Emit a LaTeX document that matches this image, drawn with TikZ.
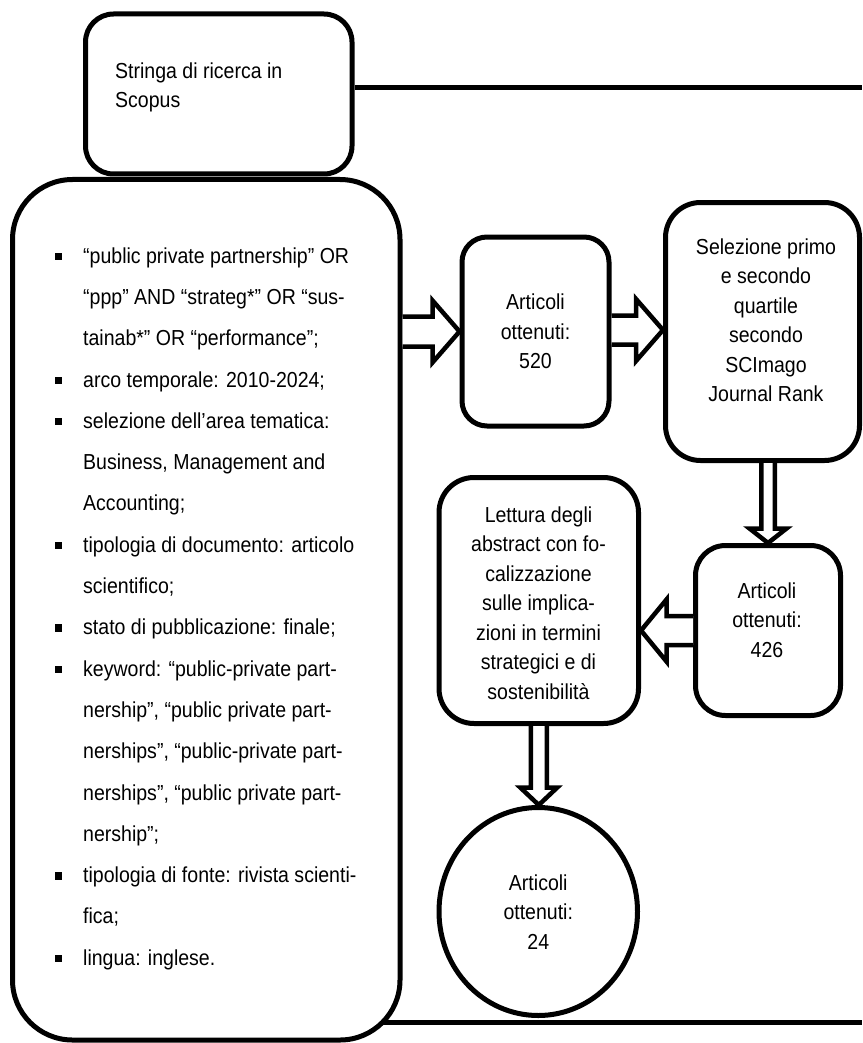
\documentclass[tikz,border=0pt]{standalone}
\usepackage{fontspec}
\setmainfont{Liberation Sans}[FakeStretch=0.9]
\usetikzlibrary{calc,shapes.geometric}
\tikzset{
  box/.style={draw=black, line width=5pt, fill=white, rounded corners=#1, inner sep=0pt},
  box/.default=30pt,
  frameline/.style={draw=black, line width=5pt},
  barrow/.style={draw=black, fill=white, line width=4.5pt, line join=miter},
  txt/.style={inner sep=0pt, font=\fontsize{21.7}{29.5}\selectfont, align=center},
  listtxt/.style={inner sep=0pt, font=\fontsize{21.7}{41.3}\selectfont, align=left},
}
% horizontal block arrow: tail, tip, shaft half-width, head half-width, head length, direction (1 right, -1 left)
\newcommand\hblock[6]{%
  \draw[barrow] ($(#1)+(0,-#3)$) -- ($(#2)+({-(#6)*(#5)},-#3)$) -- ($(#2)+({-(#6)*(#5)},-#4)$) -- (#2)
    -- ($(#2)+({-(#6)*(#5)},#4)$) -- ($(#2)+({-(#6)*(#5)},#3)$) -- ($(#1)+(0,#3)$);}
% vertical block arrow pointing down: tail, tip, shaft half-width, head half-width, head length
\newcommand\vblock[5]{%
  \draw[barrow] ($(#1)+(-#3,0)$) -- ($(#2)+(-#3,-#5)$) -- ($(#2)+(-#4,-#5)$) -- (#2)
    -- ($(#2)+(#4,-#5)$) -- ($(#2)+(#3,-#5)$) -- ($(#1)+(#3,0)$);}
\newcommand\blt{\llap{\rule[3pt]{7pt}{7.5pt}\hspace{21pt}}}
\begin{document}
\begin{tikzpicture}[x=1pt,y=-1pt]
\useasboundingbox (0,0) rectangle (862,1043);
% outer frame (partly hidden behind the boxes)
\coordinate (frameTR) at (862,88);
\coordinate (frameBL) at (300,1022.5);
\coordinate (frameBR) at (862,1022.5);
\draw[frameline] (frameBL) -- (frameBR);

% boxes
\node[box=60pt, minimum width=387.5pt, minimum height=860.5pt] (big) at (206.25,609.75) {};
\node[box=28pt, minimum width=266.5pt, minimum height=160pt] (stringa) at (218.75,94) {};
\node[box=25pt, minimum width=147pt, minimum height=189pt] (b520) at (535.5,331.5) {};
\node[box=35pt, minimum width=194pt, minimum height=258pt] (sel) at (762.5,331.5) {};
\node[box=30pt, minimum width=145pt, minimum height=170pt] (b426) at (768,630.5) {};
\node[box=35pt, minimum width=199.5pt, minimum height=246pt] (let) at (538.75,600.5) {};
\node[draw=black, line width=5pt, fill=white, ellipse, inner sep=0pt, minimum width=198.5pt, minimum height=208pt] (circ) at (538.25,911.5) {};

\draw[frameline] (stringa.east |- frameTR) -- (frameTR);

% texts
\node[txt, align=left, anchor=north west] (stringatext) at (115,62.4) {Stringa di ricerca in\\Scopus};
\node[listtxt, anchor=north west] (list) at (83,247.2) {%
\blt “public private partnership” OR\\
“ppp” AND “strateg*” OR “sus-\\
tainab*” OR “performance”;\\
\blt arco temporale: 2010-2024;\\
\blt selezione dell’area tematica:\\
Business, Management and\\
Accounting;\\
\blt tipologia di documento: articolo\\
scientifico;\\
\blt stato di pubblicazione: finale;\\
\blt keyword: “public-private part-\\
nership”, “public private part-\\
nerships”, “public-private part-\\
nerships”, “public private part-\\
nership”;\\
\blt tipologia di fonte: rivista scienti-\\
fica;\\
\blt lingua: inglese.};
\node[txt] (t520) at (535.5,331.7) {Articoli\\ottenuti:\\520};
\node[txt] (tsel) at (766,320) {Selezione primo\\e secondo\\quartile\\secondo\\SCImago\\Journal Rank};
\node[txt] (t426) at (767,620) {Articoli\\ottenuti:\\426};
\node[txt] (tlet) at (538.5,603) {Lettura degli\\abstract con fo-\\calizzazione\\sulle implica-\\zioni in termini\\strategici e di\\sostenibilità};
\node[txt] (tcirc) at (538.25,912) {Articoli\\ottenuti:\\24};

% block arrows
\coordinate (a1s) at (big.east |- b520.west);
\hblock{a1s}{b520.west}{15}{31}{27}{1}
\coordinate (a2s) at (b520.east |- sel.west);
\coordinate (a2e) at (sel.west |- 0,330);
\coordinate (a2s) at (b520.east |- a2e);
\hblock{a2s}{a2e}{14.5}{31}{27}{1}
\coordinate (a3s) at (b426.north |- sel.south);
\vblock{a3s}{b426.north}{6.75}{18.5}{14.5}
\coordinate (a4e) at (let.east |- b426.west);
\hblock{b426.west}{a4e}{14.5}{31}{25.5}{-1}
\coordinate (a5e) at (let.south |- circ.north);
\vblock{let.south}{a5e}{8}{18.5}{17.5}
\end{tikzpicture}
\end{document}
